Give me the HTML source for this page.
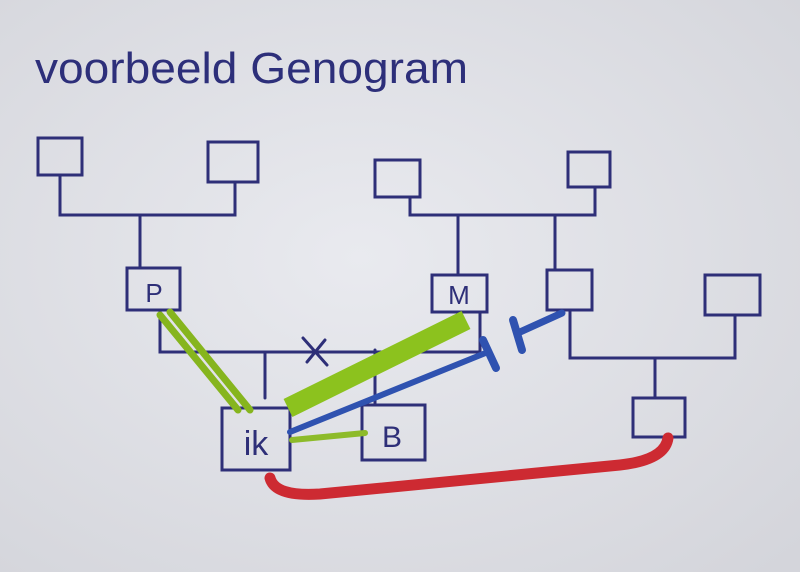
<!DOCTYPE html>
<html><head><meta charset="utf-8"><style>
html,body{margin:0;padding:0;width:800px;height:572px;overflow:hidden;background:#e3e4e9}
</style></head><body>
<svg width="800" height="572" viewBox="0 0 800 572" xmlns="http://www.w3.org/2000/svg">
<defs><radialGradient id="bg" cx="45%" cy="45%" r="75%"><stop offset="0" stop-color="#e9eaef"/><stop offset="1" stop-color="#d4d5db"/></radialGradient></defs>
<rect width="800" height="572" fill="url(#bg)"/>
<text x="35" y="83" font-family="Liberation Sans, sans-serif" font-size="44" fill="#2d2f7a" textLength="433" lengthAdjust="spacingAndGlyphs">voorbeeld Genogram</text>
<g fill="none" stroke="#2e2f78" stroke-width="3" stroke-linecap="round">
<rect x="38" y="138" width="44" height="37"/>
<rect x="208" y="142" width="50" height="40"/>
<rect x="375" y="160" width="45" height="37"/>
<rect x="568" y="152" width="42" height="35"/>
<rect x="705" y="275" width="55" height="40"/>
<rect x="127" y="268" width="53" height="42"/>
<rect x="432" y="275" width="55" height="37"/>
<rect x="547" y="270" width="45" height="40"/>
<rect x="633" y="398" width="52" height="39"/>
<rect x="222" y="408" width="68" height="62"/>
<rect x="362" y="405" width="63" height="55"/>
<path d="M60 175V215H235V182M140 215V268"/>
<path d="M410 197V215H595V187M458 215V275M555 215V270"/>
<path d="M160 310V352H480V312M265 352V398M375 350V405"/>
<path d="M303 338L327 365M325 340L307 362"/>
<path d="M570 310V358H735V315M655 358V398"/>
</g>
<g fill="none" stroke-linecap="round">
<path d="M160 315L238 410M170 312L250 410" stroke="#86b51e" stroke-width="7"/>
<path d="M466 320L288 408" stroke="#8cc21e" stroke-width="20" stroke-linecap="butt"/>
<path d="M292 440L365 433" stroke="#8dbb2a" stroke-width="6"/>
<path d="M290 432L488 352" stroke="#2f52b0" stroke-width="6"/>
<path d="M483 340L496 368" stroke="#2f52b0" stroke-width="8"/>
<path d="M562 313L520 332" stroke="#2f52b0" stroke-width="7"/>
<path d="M513 320L522 350" stroke="#2f52b0" stroke-width="8"/>
<path d="M270 478Q275 497 320 494L620 465Q665 460 668 438" stroke="#cd2a32" stroke-width="11"/>
</g>
<g font-family="Liberation Sans, sans-serif" fill="#2e2f78" text-anchor="middle">
<text x="154" y="302" font-size="26">P</text>
<text x="459" y="304" font-size="26">M</text>
<text x="256" y="455" font-size="34">ik</text>
<text x="392" y="447" font-size="30">B</text>
</g>
</svg>
</body></html>
